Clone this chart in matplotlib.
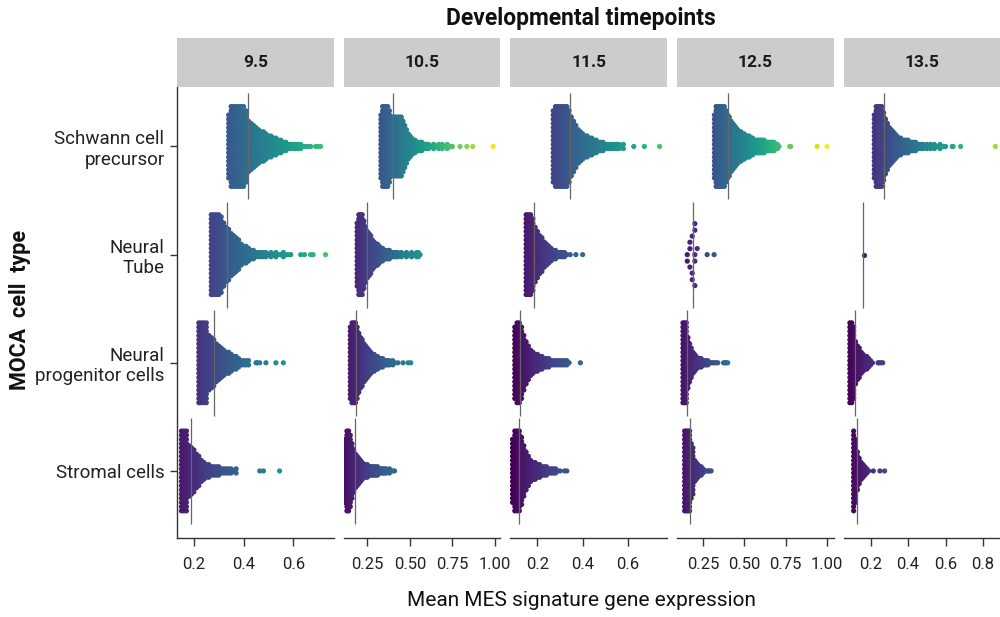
import numpy as np
import matplotlib
matplotlib.use("Agg")
import matplotlib.pyplot as plt
from matplotlib import colors

plt.rcParams['font.family'] = ['Roboto', 'DejaVu Sans']

timepoints = ['9.5', '10.5', '11.5', '12.5', '13.5']
cell_types = ['Schwann cell\nprecursor', 'Neural\nTube', 'Neural\nprogenitor cells', 'Stromal cells']
step = 0.01  # bin width of the counts below

# cells per 0.01 bin of MES signature, first bin at *_start; one list per timepoint
schwann_start = [0.34, 0.33, 0.27, 0.32, 0.22]
schwann_counts = [
    [16, 20, 20, 20, 20, 20, 20, 18, 13, 12, 11, 10, 9, 8, 8, 7, 6, 6, 5, 5, 4, 4, 3, 3, 2, 2, 2, 2, 2, 2, 1, 1, 1, 1, 0, 1, 1, 1],
    [16, 20, 20, 20, 20, 18, 15, 15, 15, 15, 15, 15, 15, 13, 11, 9, 7, 6, 5, 4, 4, 3, 3, 3, 3, 2, 2, 2,
     2, 1, 1, 2, 1, 1, 2, 1, 2, 1, 1, 2, 1, 1, 1],
    [18, 20, 20, 20, 20, 20, 20, 18, 15, 13, 11, 9, 8, 7, 6, 6, 5, 5, 4, 4, 3, 3, 3, 2, 2, 2, 2, 2, 2, 2, 1, 2],
    [16, 20, 20, 20, 20, 20, 20, 18, 16, 15, 13, 12, 11, 10, 9, 8, 8, 7, 7, 6, 6, 6, 5, 5,
     4, 4, 4, 4, 4, 4, 4, 3, 3, 3, 3, 3, 3, 2, 2, 1],
    [16, 20, 20, 20, 20, 17, 14, 12, 10, 9, 8, 7, 6, 5, 5, 4, 4, 4, 4, 3, 3, 3, 3, 2, 2, 2,
     2, 1, 2, 1, 2, 1, 2, 1, 1, 2, 1, 1, 1],
]
schwann_extra = [[], [0.795, 0.835, 0.87, 0.99], [0.626, 0.673, 0.74], [0.775, 0.78, 0.94, 1.0], [0.635, 0.64, 0.68, 0.865]]
schwann_median = [0.416, 0.403, 0.342, 0.404, 0.271]

tube_start = [0.27, 0.19, 0.15, 0.16, 0.16]
tube_counts = [
    [20, 20, 20, 20, 19, 16, 14, 13, 11, 10, 9, 8, 6, 5, 5, 4, 3, 3, 2, 2, 2, 2, 2, 1, 2, 1, 2, 1, 1, 2, 1, 1, 1],
    [16, 20, 20, 20, 17, 14, 12, 11, 10, 8, 7, 6, 6, 5, 4, 4, 3, 3, 3, 3, 2, 2, 2, 2, 2,
     1, 2, 1, 1, 2, 1, 1, 2, 1, 1, 2, 2, 1],
    [20, 20, 20, 18, 14, 12, 10, 9, 7, 6, 5, 4, 3, 3, 2, 2, 2, 2, 1],
    [],
    [],
]
tube_extra = [[0.63, 0.645, 0.67, 0.68, 0.73], [], [0.345, 0.37, 0.40],
              [0.156, 0.156, 0.172, 0.172, 0.172, 0.186, 0.186, 0.186, 0.202, 0.202, 0.202, 0.202, 0.202, 0.216, 0.276, 0.318],
              [0.163]]
tube_median = [0.333, 0.248, 0.185, 0.192, 0.162]

npc_start = [0.22, 0.15, 0.10, 0.13, 0.09]
npc_counts = [
    [20, 20, 20, 20, 14, 13, 12, 10, 9, 8, 7, 6, 6, 5, 4, 4, 3, 2, 2, 2, 2],
    [18, 20, 20, 20, 18, 15, 13, 12, 10, 9, 8, 7, 6, 5, 5, 4, 4, 3, 3, 3, 2, 2, 2, 2, 1, 2, 1],
    [18, 20, 20, 18, 14, 11, 9, 7, 6, 5, 5, 4, 4, 3, 3, 3, 2, 2, 2, 2, 2, 2, 2, 2, 1],
    [20, 20, 20, 13, 10, 8, 6, 5, 4, 3, 3, 3, 2, 2, 2, 2, 1, 1, 1, 1, 1, 1],
    [20, 20, 18, 11, 9, 8, 6, 5, 4, 4, 3, 2, 1],
]
npc_extra = [[0.45, 0.455, 0.465, 0.49, 0.53, 0.56], [0.43, 0.46, 0.49, 0.505], [0.39],
             [0.375, 0.385, 0.39, 0.40], [0.24, 0.245, 0.255, 0.265]]
npc_median = [0.281, 0.186, 0.125, 0.156, 0.117]

stromal_start = [0.15, 0.12, 0.09, 0.14, 0.11]
stromal_counts = [
    [20, 20, 20, 13, 12, 11, 9, 8, 6, 5, 4, 4, 3, 3, 3, 3, 2, 2, 2, 2, 2, 1, 2],
    [16, 20, 20, 18, 14, 11, 9, 8, 7, 6, 5, 4, 4, 4, 3, 3, 3, 3, 3, 3, 2, 2, 2, 2, 2, 1, 2, 1, 1, 1],
    [16, 20, 20, 20, 17, 13, 10, 8, 6, 5, 5, 4, 4, 3, 3, 3, 2, 2, 2, 2, 1, 1],
    [20, 20, 20, 20, 14, 12, 6, 5, 4, 3, 3, 2, 1, 1, 1],
    [20, 16, 10, 7, 5, 4, 3, 2],
]
stromal_extra = [[0.465, 0.48, 0.545], [], [0.32, 0.33], [0.29, 0.30], [0.19, 0.215, 0.25, 0.275]]
stromal_median = [0.188, 0.18, 0.12, 0.172, 0.128]

x_ranges = [(0.132, 0.762), (0.110, 1.030), (0.081, 0.773), (0.094, 1.039), (0.056, 0.890)]
x_ticks = [[0.2, 0.4, 0.6], [0.25, 0.5, 0.75, 1.0], [0.2, 0.4, 0.6], [0.25, 0.5, 0.75, 1.0], [0.2, 0.4, 0.6, 0.8]]
x_ticklabels = [['0.2', '0.4', '0.6'], ['0.25', '0.50', '0.75', '1.00'], ['0.2', '0.4', '0.6'],
                ['0.25', '0.50', '0.75', '1.00'], ['0.2', '0.4', '0.6', '0.8']]

groups = [
    (schwann_start, schwann_counts, schwann_extra, schwann_median),
    (tube_start, tube_counts, tube_extra, tube_median),
    (npc_start, npc_counts, npc_extra, npc_median),
    (stromal_start, stromal_counts, stromal_extra, stromal_median),
]


def cell_values(start, counts, extra):
    vals = []
    for i, c in enumerate(counts):
        vals += [round(start + i * step, 3)] * c
    vals += list(extra)
    return np.sort(np.array(vals, dtype=float))


def stack(vals, gap, cap):
    # cells with the same value are stacked around the centre line, squeezed into the corral
    offs = np.zeros(len(vals))
    _, first, cnt = np.unique(vals, return_index=True, return_counts=True)
    for i0, n in zip(first, cnt):
        half = min(gap * (n - 1) / 2, cap)
        offs[i0:i0 + n] = np.linspace(-half, half, n)
    return offs


def swarm(xp, d):
    # beeswarm for small groups: each dot goes to the free spot nearest the centre line
    yp = np.zeros(len(xp))
    lo = 0
    for i in range(len(xp)):
        while xp[i] - xp[lo] >= d:
            lo += 1
        if lo == i:
            continue
        dx = xp[i] - xp[lo:i]
        yj = yp[lo:i]
        dy = np.sqrt(d * d - dx * dx)
        cand = np.concatenate(([0.0], yj + dy, yj - dy))
        ok = np.all((cand[:, None] - yj[None, :]) ** 2 + dx[None, :] ** 2 >= d * d - 1e-6, axis=1)
        cand = cand[ok]
        side = 1 if i % 2 else -1
        yp[i] = cand[np.argmin(np.abs(cand) - 1e-6 * side * cand)]
    return yp


W, H = 1000, 617
fig = plt.figure(figsize=(W / 100, H / 100), dpi=100)

lefts = [177, 343.5, 510.5, 677, 843.5]
pw = 156.5
top, bottom = 87, 538
strip_top = 38
ylims = (3.62, -0.55)
gap_px = 4.2    # vertical spacing of stacked dots
half_px = 41    # corral half width

all_vals = []
for start, counts, extra, med in groups:
    for p in range(5):
        all_vals.append(cell_values(start[p], counts[p], extra[p]))
norm = colors.Normalize(vmin=min(v.min() for v in all_vals), vmax=max(v.max() for v in all_vals))

for p in range(5):
    ax = fig.add_axes([lefts[p] / W, (H - bottom) / H, pw / W, (bottom - top) / H])
    ax.set_xlim(*x_ranges[p])
    ax.set_ylim(*ylims)
    sx = pw / (x_ranges[p][1] - x_ranges[p][0])
    sy = (bottom - top) / (ylims[0] - ylims[1])

    for r, (start, counts, extra, med) in enumerate(groups):
        vals = cell_values(start[p], counts[p], extra[p])
        if len(counts[p]) > 0:
            off = stack(vals, gap_px, half_px)
        else:
            off = swarm((vals - x_ranges[p][0]) * sx, 6.5)
        ax.scatter(vals, r + off / sy, c=vals, cmap='viridis', norm=norm,
                   s=14, linewidths=0, zorder=2)
        ax.vlines(med[p], r - 0.49, r + 0.49, color='#666666', lw=0.9, zorder=3)

    for s in ['top', 'right']:
        ax.spines[s].set_visible(False)
    ax.spines['bottom'].set_color('#333333')
    ax.spines['bottom'].set_linewidth(1.0)
    ax.set_xticks(x_ticks[p])
    ax.set_xticklabels(x_ticklabels[p])
    ax.tick_params(axis='x', length=5.5, width=1, color='#333333', labelsize=12,
                   labelcolor='#222222', pad=8)
    if p == 0:
        ax.spines['left'].set_color('#333333')
        ax.spines['left'].set_linewidth(1.0)
        ax.set_yticks(range(4))
        ax.set_yticklabels(cell_types, ha='right', linespacing=1.15)
        ax.tick_params(axis='y', length=5, width=1, color='#333333', labelsize=13.5,
                       labelcolor='#222222', pad=4)
    else:
        ax.spines['left'].set_visible(False)
        ax.set_yticks([])

    sax = fig.add_axes([lefts[p] / W, (H - top) / H, pw / W, (top - strip_top) / H])
    sax.set_facecolor('#cccccc')
    sax.set_xticks([])
    sax.set_yticks([])
    for s in sax.spines.values():
        s.set_visible(False)
    sax.text(0.5, 0.5, timepoints[p], ha='center', va='center', fontsize=12.5,
             fontweight='bold', color='#1a1a1a', transform=sax.transAxes)

fig.text(581 / W, 1 - 18 / H, 'Developmental timepoints', ha='center', va='center',
         fontsize=16.5, fontweight='bold', color='#111111')
fig.text(581 / W, 1 - 601 / H, 'Mean MES signature gene expression', ha='center', va='center',
         fontsize=15, color='#111111')
fig.text(20 / W, 1 - 310 / H, 'MOCA  cell  type', ha='center', va='center', rotation=90,
         fontsize=15.5, fontweight='bold', color='#111111')

fig.savefig('out.png', dpi=100)
